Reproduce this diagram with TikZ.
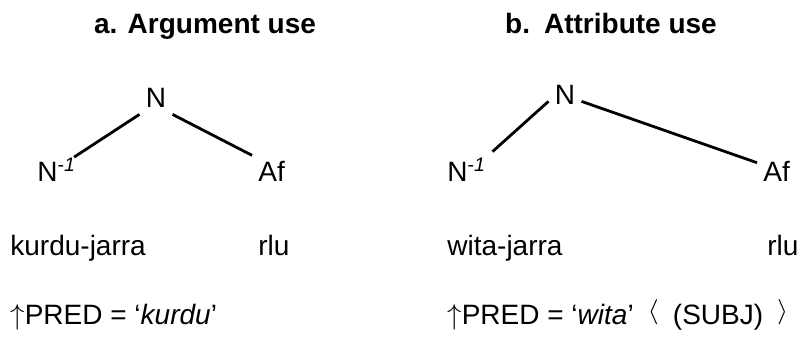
\documentclass[tikz,border=0pt]{standalone}
\usepackage{fontspec}
\setmainfont{Liberation Sans}
\usetikzlibrary{positioning}

\newcommand{\chevL}{\raisebox{0.22em}{\resizebox*{0.4em}{0.9em}{$\langle$}}}
\newcommand{\chevR}{\raisebox{0.22em}{\resizebox*{0.4em}{0.9em}{$\rangle$}}}

\begin{document}
\begin{tikzpicture}[
        x=0.5pt, y=-0.5pt,
        font=\fontsize{14}{17}\selectfont,
        title/.style={anchor=base, inner sep=0pt, font=\fontsize{14}{17}\selectfont\bfseries},
        cat/.style={anchor=base west, inner sep=3pt},
        word/.style={anchor=base west, inner sep=0pt},
        branch/.style={line width=1.4pt}
    ]
    \useasboundingbox (0,0) rectangle (799,341);

    % a. Argument use
    \node[title] (titleA) at (205,34) {a. Argument use};
    \node[cat, anchor=base] (nA) at (156,108) {N};
    \node[cat] (nmA) at (31,182) {N\textsuperscript{-\textit{1}}};
    \node[cat] (afA) at (252,182) {Af};
    \node[word] (stemA) at (10,256) {kurdu-jarra};
    \node[word] (sufA) at (258,256) {rlu};
    \node[word] (predA) at (10,325) {$\uparrow$PRED = `\textit{kurdu}'};

    % b. Attribute use
    \node[title] (titleB) at (611,34) {b.\enspace Attribute use};
    \node[cat, anchor=base] (nB) at (565,105) {N};
    \node[cat] (nmB) at (441,182) {N\textsuperscript{-\textit{1}}};
    \node[cat] (afB) at (757,182) {Af};
    \node[word] (stemB) at (447,256) {wita-jarra};
    \node[word] (sufB) at (767,256) {rlu};
    \node[word] (predB) at (447,325) {$\uparrow$PRED = `\textit{wita}'\enspace\chevL\enspace(SUBJ)\enspace\chevR};

    % Branches
    \draw[branch, shorten >=-5pt] (nA.south west) -- (nmA.north east);
    \draw[branch] (nA.south east) -- (afA.north west);
    \draw[branch] (nB.200) -- (nmB.north east);
    \draw[branch] (nB.-20) -- (afB.155);

\end{tikzpicture}
\end{document}
